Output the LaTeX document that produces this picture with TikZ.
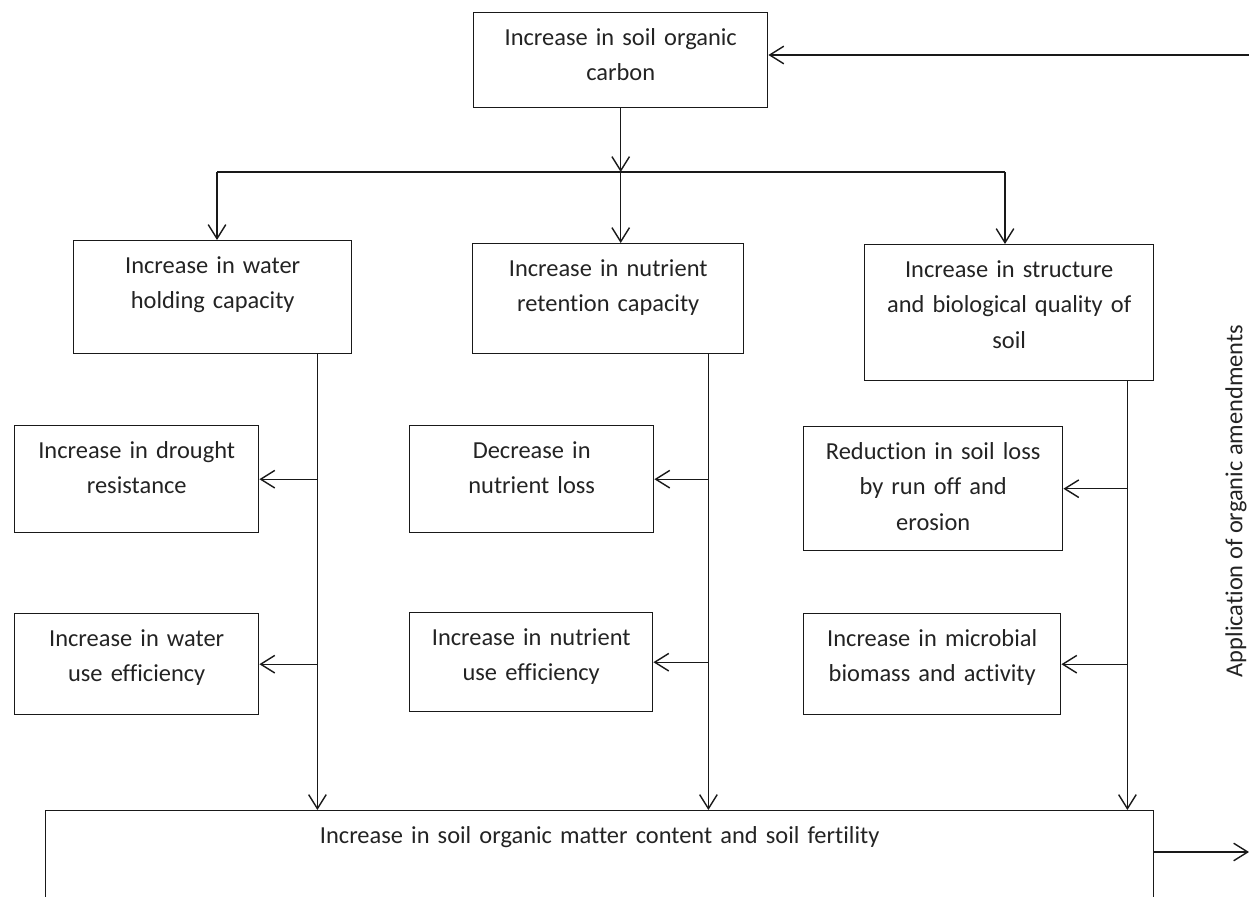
\documentclass[tikz,border=0pt]{standalone}
\usepackage{fontspec}
\setmainfont{Carlito}[Ligatures={NoCommon,NoRare}]
\usetikzlibrary{arrows.meta}
\definecolor{LineClr}{RGB}{25,25,25}
\definecolor{TextClr}{RGB}{35,35,35}

\begin{document}
\begin{tikzpicture}[
  effbox/.style={draw=LineClr, line width=0.8pt, align=center, anchor=north west,
    inner xsep=0pt, inner ysep=0pt, text height=0.65cm, text=TextClr,
    font=\fontsize{13.9pt}{20.3pt}\selectfont},
  link/.style={draw=LineClr, line width=0.8pt},
  arr/.style={link, -{Straight Barb[length=8pt,width=10pt]}}]
\useasboundingbox (0,0) rectangle (24.98,17.92);

% boxes
\node[effbox, text width=5.88cm, text depth=1.25cm] (soc) at (9.46,17.68) {Increase in soil organic\\carbon};

\node[effbox, text width=5.56cm, text depth=1.61cm] (whc) at (1.46,13.12) {Increase in water\\holding capacity};
\node[effbox, text width=5.42cm, text depth=1.55cm] (nrc) at (9.44,13.06) {Increase in nutrient\\retention capacity};
\node[effbox, text width=5.78cm, text depth=2.07cm] (sbq) at (17.28,13.04) {Increase in structure\\and biological quality of\\soil};

\node[effbox, text width=4.88cm, text depth=1.49cm] (drought) at (0.28,9.42) {Increase in drought\\resistance};
\node[effbox, text width=4.88cm, text depth=1.49cm] (nloss) at (8.18,9.42) {Decrease in\\nutrient loss};
\node[effbox, text width=5.18cm, text depth=1.83cm] (sloss) at (16.06,9.40) {Reduction in soil loss\\by run off and\\erosion};

\node[effbox, text width=4.88cm, text depth=1.37cm] (wue) at (0.28,5.66) {Increase in water\\use efficiency};
\node[effbox, text width=4.86cm, text depth=1.33cm] (nue) at (8.18,5.68) {Increase in nutrient\\use efficiency};
\node[effbox, text width=5.14cm, text depth=1.37cm] (micro) at (16.06,5.66) {Increase in microbial\\biomass and activity};

\node[effbox, text width=22.16cm, text depth=2.00cm] (fert) at (0.90,1.72) {Increase in soil organic matter content and soil fertility};

\node[rotate=90, text=TextClr, font=\fontsize{13.9pt}{20.3pt}\selectfont] (amend) at (24.72,7.90) {Application of organic amendments};

% split below the top box
\coordinate (split) at (soc.south |- 0,14.48);
\coordinate (splitL) at (4.34,14.48);
\coordinate (splitR) at (20.10,14.48);
\draw[arr] (soc.south) -- (split);
\draw[arr] (split) -- (split |- nrc.north);
\draw[link] (splitL) -- (splitR);
\draw[arr] (splitL) -- (splitL |- whc.north);
\draw[arr] (splitR) -- (splitR |- sbq.north);

% trunks down to the bottom box
\coordinate (trunkW) at ([xshift=-0.70cm]whc.south east);
\coordinate (trunkN) at ([xshift=-0.72cm]nrc.south east);
\coordinate (trunkS) at ([xshift=-0.54cm]sbq.south east);
\draw[arr] (trunkW) -- (trunkW |- fert.north);
\draw[arr] (trunkN) -- (trunkN |- fert.north);
\draw[arr] (trunkS) -- (trunkS |- fert.north);

\draw[arr] (trunkW |- drought.east) -- (drought.east);
\draw[arr] (trunkW |- wue.east) -- (wue.east);
\draw[arr] (trunkN |- nloss.east) -- (nloss.east);
\draw[arr] (trunkN |- nue.east) -- (nue.east);
\draw[arr] (trunkS |- sloss.east) -- (sloss.east);
\draw[arr] (trunkS |- micro.east) -- (micro.east);

% feedback on the right edge
\coordinate (outR) at (24.98,0.88);
\coordinate (inR) at (24.98,16.82);
\draw[arr] (fert.north east |- outR) -- (outR);
\draw[arr] (inR) -- (inR -| soc.east);

\end{tikzpicture}
\end{document}
